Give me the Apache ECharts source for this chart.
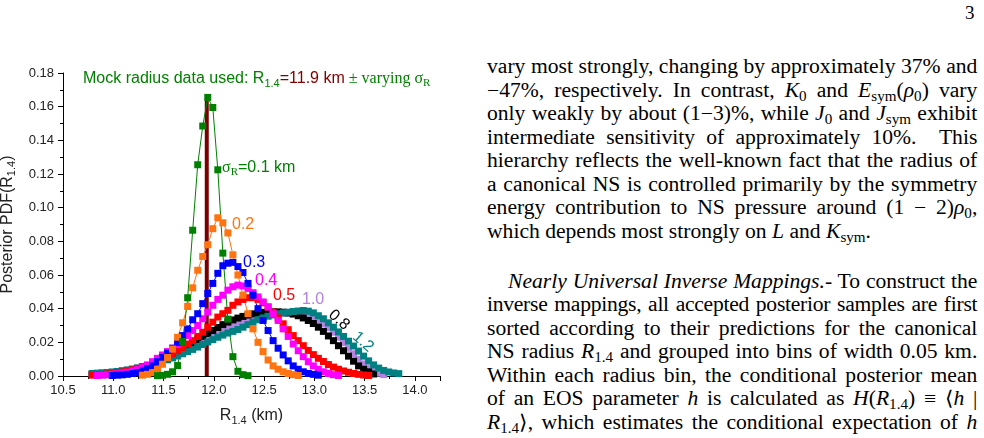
<!DOCTYPE html>
<html>
<head>
<meta charset="utf-8">
<script src="https://cdn.jsdelivr.net/npm/echarts@6/dist/echarts.min.js"></script>
<style>
  body { margin: 0; width: 984px; height: 438px; background: #fff; position: relative; overflow: hidden; }
  #Chart { position: absolute; left: 0; top: 0; width: 470px; height: 438px; }
  #PageNo { position: absolute; left: 965px; top: 2px; font-family: "Liberation Serif", serif; font-size: 19px; }
  #Text { position: absolute; left: 487px; top: 55px; width: 454px; font-family: "Liberation Serif", serif; font-size: 20px; line-height: 23.5px; color: #000; transform: scaleX(1.08); transform-origin: 0 0; }
  #Text .l { text-align: justify; text-align-last: justify; }
  #Text .tight { letter-spacing: -0.25px; }
  #Text .last { text-align-last: left; }
  #Text .ind { padding-left: 19.5px; }
  #Text .p2 { margin-top: 26.5px; }
  #Text sub { font-size: 70%; vertical-align: baseline; position: relative; top: 0.3em; line-height: 0; }
</style>
<title>Posterior PDF of R1.4</title>
</head>
<body>
<div id="Chart"></div>
<div id="PageNo">3</div>
<div id="Text">
  <div class="l">vary most strongly, changing by approximately 37% and</div>
  <div class="l">−47%, respectively. In contrast, <i>K</i><sub>0</sub> and <i>E</i><sub>sym</sub>(<i>ρ</i><sub>0</sub>) vary</div>
  <div class="l">only weakly by about (1−3)%, while <i>J</i><sub>0</sub> and <i>J</i><sub>sym</sub> exhibit</div>
  <div class="l">intermediate sensitivity of approximately 10%. &nbsp;This</div>
  <div class="l">hierarchy reflects the well-known fact that the radius of</div>
  <div class="l">a canonical NS is controlled primarily by the symmetry</div>
  <div class="l">energy contribution to NS pressure around (1 − 2)<i>ρ</i><sub>0</sub>,</div>
  <div class="l last">which depends most strongly on <i>L</i> and <i>K</i><sub>sym</sub>.</div>
  <div class="l ind p2"><i>Nearly Universal Inverse Mappings.</i>- To construct the</div>
  <div class="l tight">inverse mappings, all accepted posterior samples are first</div>
  <div class="l">sorted according to their predictions for the canonical</div>
  <div class="l">NS radius <i>R</i><sub>1.4</sub> and grouped into bins of width 0.05 km.</div>
  <div class="l">Within each radius bin, the conditional posterior mean</div>
  <div class="l">of an EOS parameter <i>h</i> is calculated as <i>H</i>(<i>R</i><sub>1.4</sub>) ≡ ⟨<i>h</i> |</div>
  <div class="l"><i>R</i><sub>1.4</sub>⟩, which estimates the conditional expectation of <i>h</i></div>
</div>
<script>
    // 半径分箱中心 (km)
    var radius = [10.79, 10.84, 10.89, 10.94, 10.99, 11.04, 11.09, 11.14, 11.19, 11.24,
        11.29, 11.34, 11.39, 11.44, 11.49, 11.54, 11.59, 11.64, 11.69, 11.74,
        11.79, 11.84, 11.89, 11.94, 11.99, 12.04, 12.09, 12.14, 12.19, 12.24,
        12.29, 12.34, 12.39, 12.44, 12.49, 12.54, 12.59, 12.64, 12.69, 12.74,
        12.79, 12.84, 12.89, 12.94, 12.99, 13.04, 13.09, 13.14, 13.19, 13.24,
        13.29, 13.34, 13.39, 13.44, 13.49, 13.54, 13.59, 13.64, 13.69, 13.74,
        13.79, 13.84];

    // 各 sigma_R 的后验分布 (前面的 null 表示该箱没有点)
    var pdf01 = [null, null, null, null, null, null, null, null, null, null,
        null, null, null, 0.0002, 0.0004, 0.001, 0.0025, 0.0062, 0.0205, 0.0465,
        0.0866, 0.1255, 0.1485, 0.1655, 0.1595, 0.1225, 0.073, 0.0338, 0.0115, 0.0028,
        0.0008, 0.0002];
    var pdf02 = [null, null, null, null, null, null, null, null, null, null,
        0.0005, 0.001, 0.002, 0.004, 0.007, 0.011, 0.016, 0.023, 0.0316, 0.0413,
        0.0524, 0.0628, 0.071, 0.078, 0.0875, 0.094, 0.091, 0.085, 0.072, 0.060,
        0.048, 0.037, 0.028, 0.020, 0.0145, 0.0095, 0.006, 0.004, 0.0025, 0.0015,
        0.0008, 0.0003];
    var pdf03 = [null, null, null, null, 0.0003, 0.0005, 0.0007, 0.001, 0.0015, 0.002,
        0.003, 0.0045, 0.006, 0.0085, 0.011, 0.0135, 0.0165, 0.020, 0.024, 0.028,
        0.0334, 0.037, 0.043, 0.049, 0.055, 0.061, 0.0655, 0.067, 0.0675, 0.065,
        0.0615, 0.055, 0.048, 0.040, 0.033, 0.027, 0.021, 0.0165, 0.0125, 0.009,
        0.006, 0.004, 0.0025, 0.0015, 0.001, 0.0005];
    var pdf04 = [null, 0.0003, 0.0005, 0.0007, 0.001, 0.0013, 0.0017, 0.0022, 0.003, 0.0038,
        0.005, 0.0065, 0.0085, 0.0105, 0.0125, 0.0145, 0.0165, 0.019, 0.0215, 0.024,
        0.027, 0.030, 0.034, 0.038, 0.042, 0.0455, 0.048, 0.051, 0.053, 0.054,
        0.0535, 0.052, 0.0495, 0.047, 0.044, 0.041, 0.037, 0.033, 0.028, 0.0235,
        0.019, 0.015, 0.0115, 0.0085, 0.006, 0.004, 0.0025, 0.0015, 0.0008, 0.0003];
    var pdf05 = [0.0005, 0.0007, 0.0009, 0.0012, 0.0015, 0.0019, 0.0024, 0.003, 0.0037, 0.0045,
        0.0053, 0.0063, 0.0074, 0.0087, 0.010, 0.0115, 0.0132, 0.015, 0.017, 0.019,
        0.021, 0.0235, 0.026, 0.029, 0.032, 0.035, 0.037, 0.039, 0.042, 0.044,
        0.0455, 0.0465, 0.0465, 0.0455, 0.0435, 0.041, 0.038, 0.0345, 0.031, 0.0275,
        0.024, 0.021, 0.018, 0.0152, 0.0127, 0.0105, 0.0086, 0.0068, 0.0053, 0.004,
        0.003, 0.0022, 0.0015, 0.001, 0.0006, 0.0003];
    var pdf08 = [0.001, 0.0012, 0.0014, 0.0017, 0.002, 0.0024, 0.0028, 0.0033, 0.0039, 0.0046,
        0.0054, 0.0063, 0.0073, 0.0085, 0.0098, 0.0112, 0.0127, 0.0143, 0.016, 0.0178,
        0.0196, 0.0215, 0.0234, 0.0252, 0.027, 0.0288, 0.0305, 0.032, 0.0333, 0.0344,
        0.0354, 0.0362, 0.0369, 0.0374, 0.0378, 0.038, 0.0381, 0.0381, 0.0379, 0.0375,
        0.0368, 0.0358, 0.0345, 0.033, 0.0312, 0.029, 0.0265, 0.0238, 0.021, 0.018,
        0.015, 0.0118, 0.0088, 0.006, 0.004, 0.0025, 0.0012];
    var pdf10 = [0.0009, 0.0011, 0.0013, 0.0015, 0.0018, 0.0021, 0.0025, 0.003, 0.0035, 0.0041,
        0.0048, 0.0056, 0.0065, 0.0075, 0.0086, 0.0098, 0.011, 0.0124, 0.0138, 0.0153,
        0.0168, 0.0184, 0.02, 0.0216, 0.0232, 0.0248, 0.0263, 0.0278, 0.0292, 0.0305,
        0.0317, 0.0328, 0.0338, 0.0347, 0.0354, 0.036, 0.0365, 0.0369, 0.0372, 0.0373,
        0.0373, 0.0371, 0.0366, 0.0358, 0.0346, 0.033, 0.031, 0.0287, 0.026, 0.023,
        0.0198, 0.0165, 0.0132, 0.01, 0.0072, 0.0048, 0.003, 0.0017, 0.0008];
    var pdf12 = [0.0015, 0.0017, 0.0019, 0.0021, 0.0024, 0.0027, 0.0031, 0.0036, 0.0041, 0.0047,
        0.0054, 0.006, 0.0068, 0.0077, 0.0086, 0.0096, 0.0107, 0.0119, 0.0132, 0.0145,
        0.0158, 0.0172, 0.0187, 0.0202, 0.0216, 0.023, 0.0243, 0.0255, 0.0265, 0.0276,
        0.029, 0.0305, 0.032, 0.0334, 0.0345, 0.0355, 0.0363, 0.037, 0.0375, 0.0379,
        0.0383, 0.0386, 0.0389, 0.0385, 0.0375, 0.0358, 0.034, 0.0316, 0.029, 0.0262,
        0.0235, 0.0207, 0.0178, 0.0148, 0.0118, 0.009, 0.0066, 0.0047, 0.0033, 0.0024,
        0.0018, 0.0014];

    // 模拟数据的中心半径 (竖线)
    var mockR = 11.93;
    var mockTop = 0.165;

    var sans = 'Liberation Sans';
    var serif = 'Liberation Serif';

    function pairs(vals) {
        var out = [];
        for (var i = 0; i < vals.length; i++) {
            if (vals[i] != null) out.push([radius[i], vals[i]]);
        }
        return out;
    }

    function curve(name, vals, color) {
        return {
            name: name,
            type: 'line',
            data: pairs(vals),
            symbol: 'rect',
            symbolSize: 7,
            showAllSymbol: true,
            lineStyle: { width: 1, color: color },
            itemStyle: { color: color },
            emphasis: { disabled: true }
        };
    }

    var chart = echarts.init(document.getElementById('Chart'));

    var option = {
        animation: false,
        grid: { left: 63, top: 73, width: 377, height: 303, containLabel: false, outerBoundsMode: 'none' },
        xAxis: {
            type: 'value', min: 10.5, max: 14.25, interval: 0.5,
            axisLine: { show: true, lineStyle: { color: '#000', width: 1 } },
            axisTick: { show: true, length: 5, lineStyle: { color: '#000' } },
            minorTick: { show: true, splitNumber: 2, length: 3, lineStyle: { color: '#000' } },
            splitLine: { show: false },
            axisLabel: {
                fontSize: 13, fontFamily: sans, color: '#222', margin: 8,
                formatter: function (v) { return v > 14.01 ? '' : v.toFixed(1); }
            },
            name: '{a|R}{s|1.4}{a| (km)}', nameLocation: 'middle', nameGap: 30,
            nameTextStyle: {
                rich: {
                    a: { fontSize: 16, fontFamily: sans, color: '#222', lineHeight: 20 },
                    s: { fontSize: 11, fontFamily: sans, color: '#222', lineHeight: 10, verticalAlign: 'bottom' }
                }
            }
        },
        yAxis: {
            type: 'value', min: 0, max: 0.18, interval: 0.02,
            axisLine: { show: true, lineStyle: { color: '#000', width: 1 } },
            axisTick: { show: true, length: 5, lineStyle: { color: '#000' } },
            minorTick: { show: true, splitNumber: 2, length: 3, lineStyle: { color: '#000' } },
            splitLine: { show: false },
            axisLabel: {
                fontSize: 13, fontFamily: sans, color: '#222', margin: 9,
                formatter: function (v) { return v.toFixed(2); }
            },
            name: '{a|Posterior PDF(R}{s|1.4}{a|)}', nameLocation: 'middle', nameGap: 40,
            nameTextStyle: {
                rich: {
                    a: { fontSize: 16, fontFamily: sans, color: '#222', lineHeight: 20 },
                    s: { fontSize: 11, fontFamily: sans, color: '#222', lineHeight: 10, verticalAlign: 'bottom' }
                }
            }
        },
        series: [
            {
                name: 'mock', type: 'line', data: [[mockR, 0], [mockR, mockTop]],
                symbol: 'none', lineStyle: { width: 4, color: '#7a0000' }, emphasis: { disabled: true }
            },
            curve('1.0', pdf10, '#b383e0'),
            curve('0.8', pdf08, '#000000'),
            curve('1.2', pdf12, '#008080'),
            curve('0.5', pdf05, '#ff0000'),
            curve('0.4', pdf04, '#ff00ff'),
            curve('0.3', pdf03, '#0000ff'),
            curve('0.2', pdf02, '#ff7410'),
            curve('0.1', pdf01, '#008000')
        ],
        graphic: [
            {
                type: 'text', x: 83, y: 79,
                style: {
                    text: '{g|Mock radius data used: R}{gs|1.4}{r|=11.9 km}{t| ± varying σ}{ts|R}',
                    verticalAlign: 'middle',
                    rich: {
                        g: { fontSize: 16, fontFamily: sans, fill: '#008000', lineHeight: 20 },
                        gs: { fontSize: 11, fontFamily: sans, fill: '#008000', lineHeight: 10, verticalAlign: 'bottom' },
                        r: { fontSize: 16, fontFamily: sans, fill: '#800000', lineHeight: 20 },
                        t: { fontSize: 16, fontFamily: serif, fill: '#008000', lineHeight: 20 },
                        ts: { fontSize: 11, fontFamily: serif, fill: '#008000', lineHeight: 10, verticalAlign: 'bottom' }
                    }
                }
            },
            {
                type: 'text', x: 222, y: 168,
                style: {
                    text: '{t|σ}{ts|R}{g|=0.1 km}',
                    verticalAlign: 'middle',
                    rich: {
                        t: { fontSize: 16, fontFamily: serif, fill: '#008000', lineHeight: 20 },
                        ts: { fontSize: 11, fontFamily: serif, fill: '#008000', lineHeight: 10, verticalAlign: 'bottom' },
                        g: { fontSize: 16, fontFamily: sans, fill: '#008000', lineHeight: 20 }
                    }
                }
            },
            { type: 'text', x: 232, y: 225, style: { text: '0.2', fontSize: 16, fontFamily: sans, fill: '#ff7410', verticalAlign: 'middle' } },
            { type: 'text', x: 243, y: 263, style: { text: '0.3', fontSize: 16, fontFamily: sans, fill: '#0000ff', verticalAlign: 'middle' } },
            { type: 'text', x: 255, y: 281, style: { text: '0.4', fontSize: 16, fontFamily: sans, fill: '#ff00ff', verticalAlign: 'middle' } },
            { type: 'text', x: 273, y: 296, style: { text: '0.5', fontSize: 16, fontFamily: sans, fill: '#ff0000', verticalAlign: 'middle' } },
            { type: 'text', x: 302, y: 300, style: { text: '1.0', fontSize: 16, fontFamily: sans, fill: '#b383e0', verticalAlign: 'middle' } },
            { type: 'text', x: 339, y: 320, rotation: -0.72, style: { text: '0.8', fontSize: 16, fontFamily: sans, fill: '#000', align: 'center', verticalAlign: 'middle' } },
            { type: 'text', x: 363, y: 342, rotation: -0.72, style: { text: '1.2', fontSize: 16, fontFamily: sans, fill: '#008080', align: 'center', verticalAlign: 'middle' } }
        ]
    };

    chart.setOption(option);
</script>
</body>
</html>
